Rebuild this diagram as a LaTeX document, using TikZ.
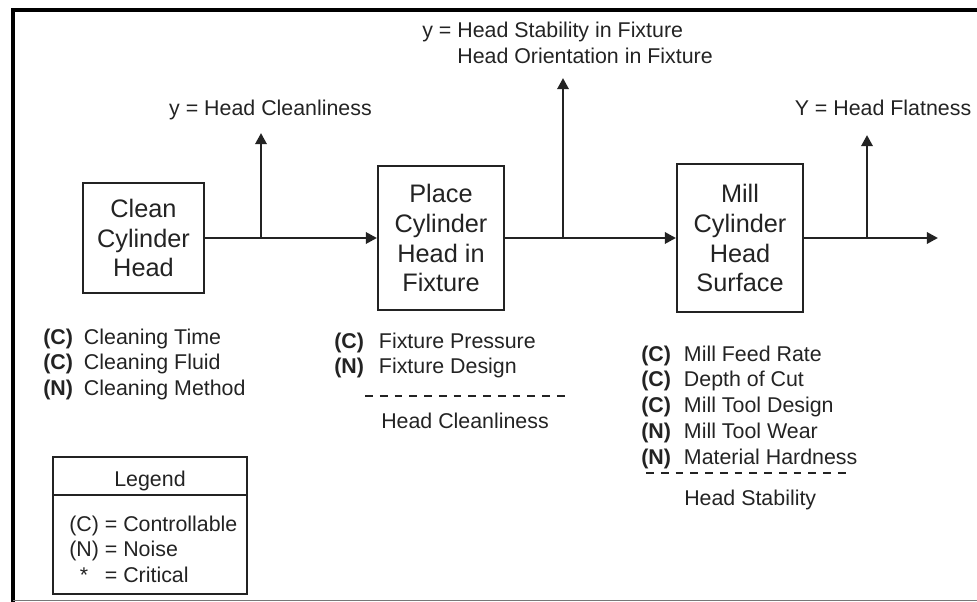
\documentclass[tikz,border=0pt]{standalone}
\usepackage{fontspec}
\setmainfont{Liberation Sans}
\usetikzlibrary{arrows.meta,positioning,calc}
\definecolor{inkgray}{RGB}{35,35,35}
\definecolor{framegray}{RGB}{120,120,120}
\newcommand{\lblfont}{\fontsize{15.2}{18.4}\selectfont}
\newcommand{\procfont}{\fontsize{18}{21.3}\selectfont}
\tikzset{
  procbox/.style={draw=inkgray, line width=1.4pt, align=center, inner sep=0pt, font=\procfont, text=inkgray},
  flow/.style={draw=inkgray, line width=2pt, -{Triangle[length=8pt,width=8pt]}},
  lbl/.style={font=\lblfont, text=inkgray, inner sep=0pt},
  sepline/.style={draw=inkgray, line width=1pt, dash pattern=on 5.5pt off 5pt}
}

\begin{document}
\begin{tikzpicture}[x=0.025cm, y=-0.025cm]
    \useasboundingbox (0,0) rectangle (977,602);
    % Frame
    \draw[line width=3.5pt] (13,602) -- (13,10) -- (977,10);
    \draw[framegray, line width=0.8pt] (13,600.5) -- (977,600.5);

    % Process boxes
    \node[procbox, minimum width=3.025cm, minimum height=2.75cm] (clean) at (143.5,238) {Clean\\Cylinder\\Head};
    \node[procbox, minimum width=3.15cm, minimum height=3.6cm] (place) at (441,238) {Place\\Cylinder\\Head in\\Fixture};
    \node[procbox, minimum width=3.15cm, minimum height=3.675cm] (mill) at (740,238) {Mill\\Cylinder\\Head\\Surface};

    % Flow arrows
    \coordinate (out) at (938,238);
    \draw[flow] (clean) -- (place);
    \draw[flow] (place) -- (mill);
    \draw[flow] (mill) -- (out);

    % Outputs
    \coordinate (tap1) at (261,238);
    \coordinate (tap2) at (563,238);
    \coordinate (tap3) at (867,238);
    \coordinate (y1) at (261,133);
    \coordinate (y2) at (563,78);
    \coordinate (y3) at (867,135);
    \draw[flow] (tap1) -- (y1);
    \draw[flow] (tap2) -- (y2);
    \draw[flow] (tap3) -- (y3);
    \node[lbl, anchor=base] (ycl) at (270.5,116) {y = Head Cleanliness};
    \node[lbl, anchor=base west] (yfix) at (422,38) {\begin{tabular}[t]{@{}l@{}}y = Head Stability in Fixture\\\phantom{y = }Head Orientation in Fixture\end{tabular}};
    \node[lbl, anchor=base] (yflat) at (883,116) {Y = Head Flatness};

    % Inputs
    \node[lbl, anchor=base west] (xclean) at (43,344) {\begin{tabular}[t]{@{}l@{\hspace{0.275cm}}l@{}}\textbf{(C)} & Cleaning Time\\\textbf{(C)} & Cleaning Fluid\\\textbf{(N)} & Cleaning Method\end{tabular}};
    \node[lbl, anchor=base west] (xplace) at (334,348) {\begin{tabular}[t]{@{}l@{\hspace{0.375cm}}l@{}}\textbf{(C)} & Fixture Pressure\\\textbf{(N)} & Fixture Design\end{tabular}};
    \draw[sepline] (365,396) -- (570,396);
    \node[lbl, anchor=base west] (xplace2) at (381,428) {Head Cleanliness};
    \node[lbl, anchor=base west] (xmill) at (641,361) {\begin{tabular}[t]{@{}l@{\hspace{0.325cm}}l@{}}\textbf{(C)} & Mill Feed Rate\\\textbf{(C)} & Depth of Cut\\\textbf{(C)} & Mill Tool Design\\\textbf{(N)} & Mill Tool Wear\\\textbf{(N)} & Material Hardness\end{tabular}};
    \draw[sepline] (646,473) -- (851,473);
    \node[lbl, anchor=base west] (xmill2) at (684,505) {Head Stability};

    % Legend
    \draw[inkgray, line width=1.4pt] (53,457) rectangle (247,594);
    \draw[inkgray, line width=1.4pt] (53,495) -- (247,495);
    \node[lbl, anchor=base] (legtitle) at (150,486) {Legend};
    \node[lbl, anchor=base west] (legbody) at (69,531) {\begin{tabular}[t]{@{}c@{ }l@{}}(C) & = Controllable\\(N) & = Noise\\{*} & = Critical\end{tabular}};
\end{tikzpicture}
\end{document}
